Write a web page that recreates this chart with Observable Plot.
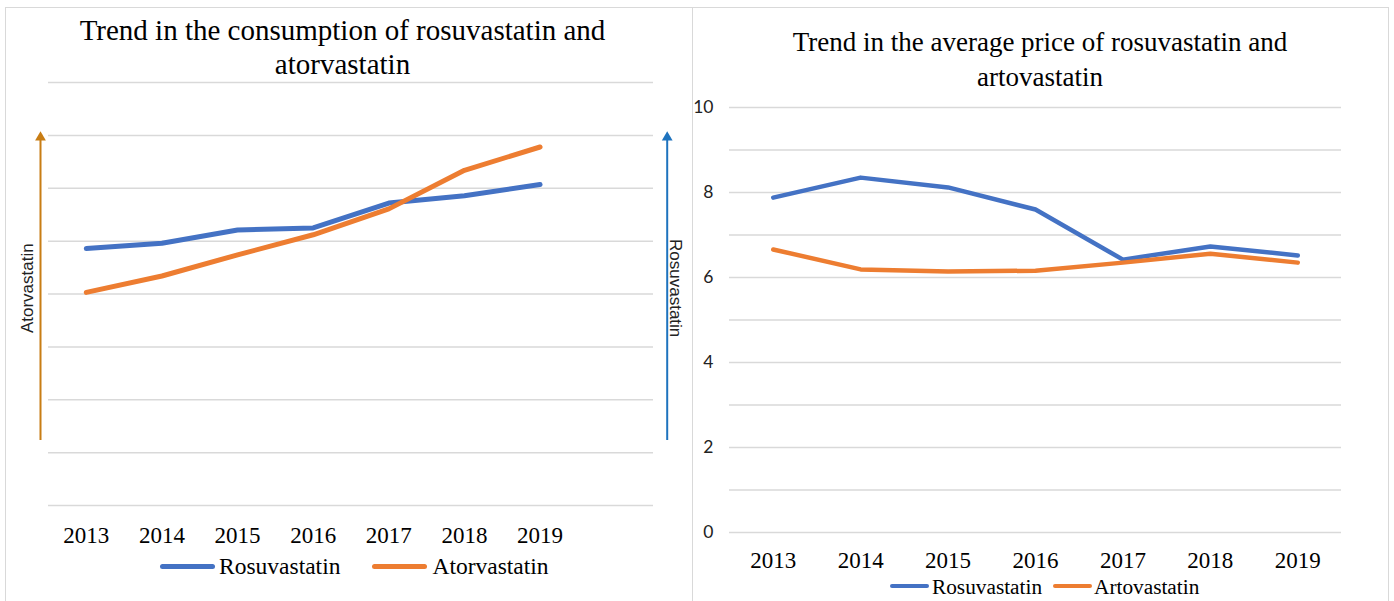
<!DOCTYPE html>
<html>
<head>
<meta charset="utf-8">
<script src="https://cdn.jsdelivr.net/npm/d3@7"></script>
<script src="https://cdn.jsdelivr.net/npm/@observablehq/plot@0.6"></script>
<style>
  body { margin: 0; width: 1394px; height: 601px; overflow: hidden; background: #fff; position: relative; font-family: "Liberation Serif", "Times New Roman", serif; }
  .panel { position: absolute; border: 1.5px solid #d9d9d9; box-sizing: border-box; }
  .title { position: absolute; text-align: center; color: #000; white-space: nowrap; }
  .legend { position: absolute; white-space: nowrap; color: #000; }
  .sw { display: inline-block; border-radius: 3px; }
  .chart { position: absolute; top: 0; }
</style>
</head>
<body>
<div class="panel" style="left:5px;top:7px;width:688px;height:600px"></div>
<div class="panel" style="left:692px;top:7px;width:697px;height:600px"></div>

<div class="title" style="left:5px;width:675px;top:14.3px;font-size:29px;line-height:33.3px">Trend in the consumption of rosuvastatin and<br>atorvastatin</div>
<div class="title" style="left:692px;width:696px;top:25.4px;font-size:27px;line-height:34.3px">Trend in the average price of rosuvastatin and<br>artovastatin</div>

<div id="left" class="chart" style="left:0px"></div>
<div id="right" class="chart" style="left:692px"></div>

<div class="legend" style="left:160px;top:552px;font-size:23.5px;line-height:28px">
  <span class="sw" style="width:55px;height:5px;background:#4472c4;vertical-align:4.8px;margin-right:4px"></span>Rosuvastatin<span class="sw" style="width:55px;height:5px;background:#ed7d31;vertical-align:4.8px;margin-left:32px;margin-right:5px"></span>Atorvastatin
</div>
<div class="legend" style="left:890px;top:573.8px;font-size:21.3px;line-height:26px">
  <span class="sw" style="width:39px;height:4.5px;background:#4472c4;vertical-align:5.5px;margin-right:3px"></span>Rosuvastatin<span class="sw" style="width:39px;height:4.5px;background:#ed7d31;vertical-align:5.5px;margin-left:11px;margin-right:2px"></span>Artovastatin
</div>

<script>
// Years shown on both charts
const years = [2013, 2014, 2015, 2016, 2017, 2018, 2019];

// Consumption trend (relative units, no scale printed)
const consumptionRosuvastatin = [4.86, 4.96, 5.21, 5.25, 5.72, 5.86, 6.07];
const consumptionAtorvastatin = [4.03, 4.34, 4.74, 5.12, 5.61, 6.34, 6.78];

// Average price trend
const priceRosuvastatin = [7.88, 8.35, 8.12, 7.60, 6.42, 6.73, 6.52];
const priceArtovastatin = [6.66, 6.19, 6.14, 6.16, 6.35, 6.56, 6.35];

// Gridlines and tick labels
const consumptionGridTicks = [0, 1, 2, 3, 4, 5, 6, 7, 8];
const priceGridTicks = [0, 1, 2, 3, 4, 5, 6, 7, 8, 9, 10];
const priceTickLabels = [0, 2, 4, 6, 8, 10];

const blue = "#4472c4";
const orange = "#ed7d31";
const gridStyle = {stroke: "#d9d9d9", strokeOpacity: 1, strokeWidth: 1.5};

const consumption = years.flatMap((year, i) => [
  {year, series: "Rosuvastatin", value: consumptionRosuvastatin[i]},
  {year, series: "Atorvastatin", value: consumptionAtorvastatin[i]}
]);
const price = years.flatMap((year, i) => [
  {year, series: "Rosuvastatin", value: priceRosuvastatin[i]},
  {year, series: "Artovastatin", value: priceArtovastatin[i]}
]);

const leftArrowColor = "#c87d14";
const rightArrowColor = "#1e73be";
const sideLabelFont = {fontFamily: "'Liberation Sans', Arial, sans-serif", fontSize: 17, fill: "#222"};

const left = Plot.plot({
  width: 690, height: 600,
  marginLeft: 48, marginRight: 37, marginTop: 82, marginBottom: 95,
  x: {domain: [2012.5, 2020.5], axis: null},
  y: {domain: [0, 8], axis: null},
  color: {domain: ["Rosuvastatin", "Atorvastatin"], range: [blue, orange]},
  style: {fontFamily: "'Liberation Serif', 'Times New Roman', serif", background: "transparent", overflow: "visible", color: "#000"},
  marks: [
    Plot.gridY(consumptionGridTicks, gridStyle),
    Plot.axisX(years, {tickSize: 0, tickPadding: 21, fontSize: 23, tickFormat: d => String(d), label: null}),
    Plot.line(consumption, {x: "year", y: "value", stroke: "series", z: "series", strokeWidth: 5, strokeLinecap: "round", strokeLinejoin: "round"}),
    // Axis indicators: Atorvastatin on the left, Rosuvastatin on the right
    Plot.ruleX([2012.5], {x: d => d, y1: 1.23, y2: 6.96, stroke: leftArrowColor, strokeWidth: 2, dx: -8}),
    Plot.dot([2012.5], {x: d => d, y: 6.96, symbol: "triangle", r: 4, fill: leftArrowColor, stroke: null, dx: -8}),
    Plot.text(["Atorvastatin"], {x: 2012.5, y: 4.11, dx: -21, rotate: -90, text: d => d, ...sideLabelFont}),
    Plot.ruleX([2020.5], {x: d => d, y1: 1.23, y2: 6.96, stroke: rightArrowColor, strokeWidth: 2, dx: 13.7}),
    Plot.dot([2020.5], {x: d => d, y: 6.96, symbol: "triangle", r: 4, fill: rightArrowColor, stroke: null, dx: 13.7}),
    Plot.text(["Rosuvastatin"], {x: 2020.5, y: 4.11, dx: 22, rotate: 90, text: d => d, ...sideLabelFont})
  ]
});
document.getElementById("left").appendChild(left);

const right = Plot.plot({
  width: 702, height: 600,
  marginLeft: 37, marginRight: 53, marginTop: 107, marginBottom: 68,
  x: {domain: [2012.5, 2019.5], axis: null},
  y: {domain: [0, 10], axis: null},
  color: {domain: ["Rosuvastatin", "Artovastatin"], range: [blue, orange]},
  style: {fontFamily: "'Liberation Serif', 'Times New Roman', serif", background: "transparent", overflow: "visible", color: "#000"},
  marks: [
    Plot.gridY(priceGridTicks, gridStyle),
    Plot.axisY(priceTickLabels, {tickSize: 0, tickPadding: 16, fontSize: 17.5, fontFamily: "Lato, 'Open Sans', sans-serif", fill: "#222", label: null}),
    Plot.axisX(years, {tickSize: 0, tickPadding: 19, fontSize: 23, tickFormat: d => String(d), label: null}),
    Plot.line(price, {x: "year", y: "value", stroke: "series", z: "series", strokeWidth: 4.5, strokeLinecap: "round", strokeLinejoin: "round"})
  ]
});
document.getElementById("right").appendChild(right);
</script>
</body>
</html>
